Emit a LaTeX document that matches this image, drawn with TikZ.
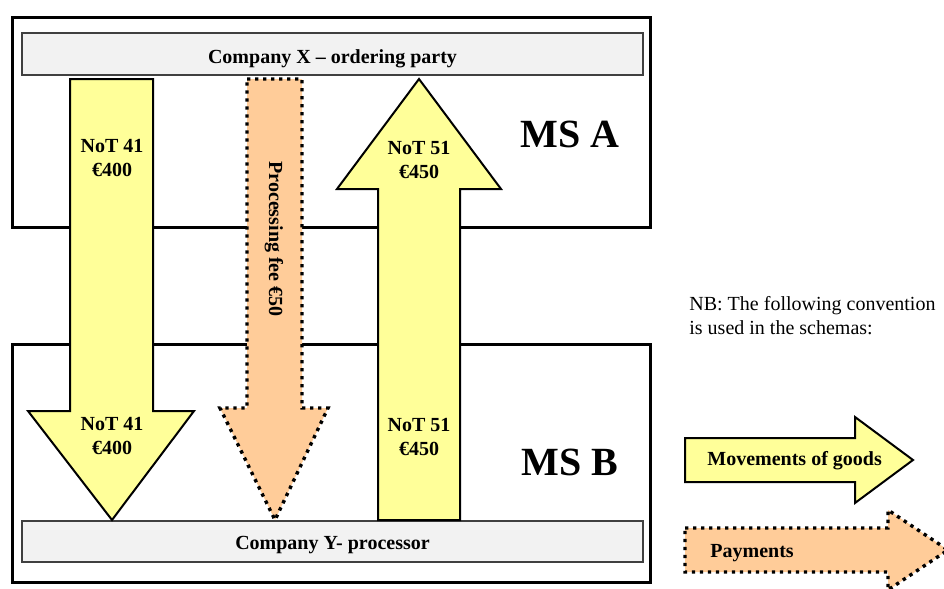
\documentclass[tikz,border=0pt]{standalone}
\usepackage{fontspec}
\setmainfont{Liberation Serif}
\definecolor{goodsyellow}{HTML}{FFFF99}
\definecolor{payorange}{HTML}{FFCC99}
\begin{document}
\begin{tikzpicture}[x=0.5pt,y=-0.5pt,
                    every node/.style={font=\bfseries,inner sep=0pt},
                    msbox/.style={draw,line width=1.5pt},
                    partybar/.style={draw=black!75,fill=black!5,line width=0.7pt},
                    goods/.style={draw,fill=goodsyellow,line width=1pt},
                    payment/.style={draw,fill=payorange,line width=1.7pt,
                                    dash pattern=on 1.7pt off 2.3pt},
                    amount/.style={align=center},
                    mslabel/.style={font=\bfseries\fontsize{20}{24}\selectfont,anchor=base}]

\useasboundingbox (0,0) rectangle (944,589);
\clip (0,0) rectangle (944,589);

% member states
\draw[msbox] (12,17) rectangle (650,227);
\draw[msbox] (12,344) rectangle (650,582);
\node[mslabel] (msa) at (570,148) {MS A};
\node[mslabel] (msb) at (570,475) {MS B};

% parties
\draw[partybar] (22,33) rectangle (643,75);
\draw[partybar] (22,521) rectangle (643,562);
\node[anchor=base] (compx) at (332.5,63) {Company X – ordering party};
\node[anchor=base] (compy) at (332.5,549) {Company Y- processor};

% flows
\draw[goods] (70,79) -- (153,79) -- (153,411) -- (194,411) -- (112,520)
  -- (28,411) -- (70,411) -- cycle;
\draw[payment] (247,79) -- (302,79) -- (302,408) -- (328,408) -- (275,520)
  -- (220,408) -- (247,408) -- cycle;
\draw[goods] (419,79) -- (501,189) -- (460,189) -- (460,520) -- (378,520)
  -- (378,189) -- (337,189) -- cycle;

\node[amount] (t41a) at (112,157.5) {NoT 41\\€400};
\node[amount] (t41b) at (112,435.5) {NoT 41\\€400};
\node[amount] (t51a) at (419,159.5) {NoT 51\\€450};
\node[amount] (t51b) at (419,437) {NoT 51\\€450};
\node[rotate=-90] (fee) at (274,239) {Processing fee €50};

% legend
\node[font=\normalfont,align=left,anchor=base west] (nb) at (689,334)
  {NB: The following convention\\is used in the schemas:};
\draw[goods] (685,438) -- (855,438) -- (855,417) -- (913,460) -- (855,503)
  -- (855,482) -- (685,482) -- cycle;
\draw[payment] (685,528) -- (888,528) -- (888,510) -- (948,550) -- (888,590)
  -- (888,572) -- (685,572) -- cycle;
\node[anchor=base west] (lgoods) at (707,465) {Movements of goods};
\node[anchor=base west] (lpay) at (710,557) {Payments};

\end{tikzpicture}
\end{document}
